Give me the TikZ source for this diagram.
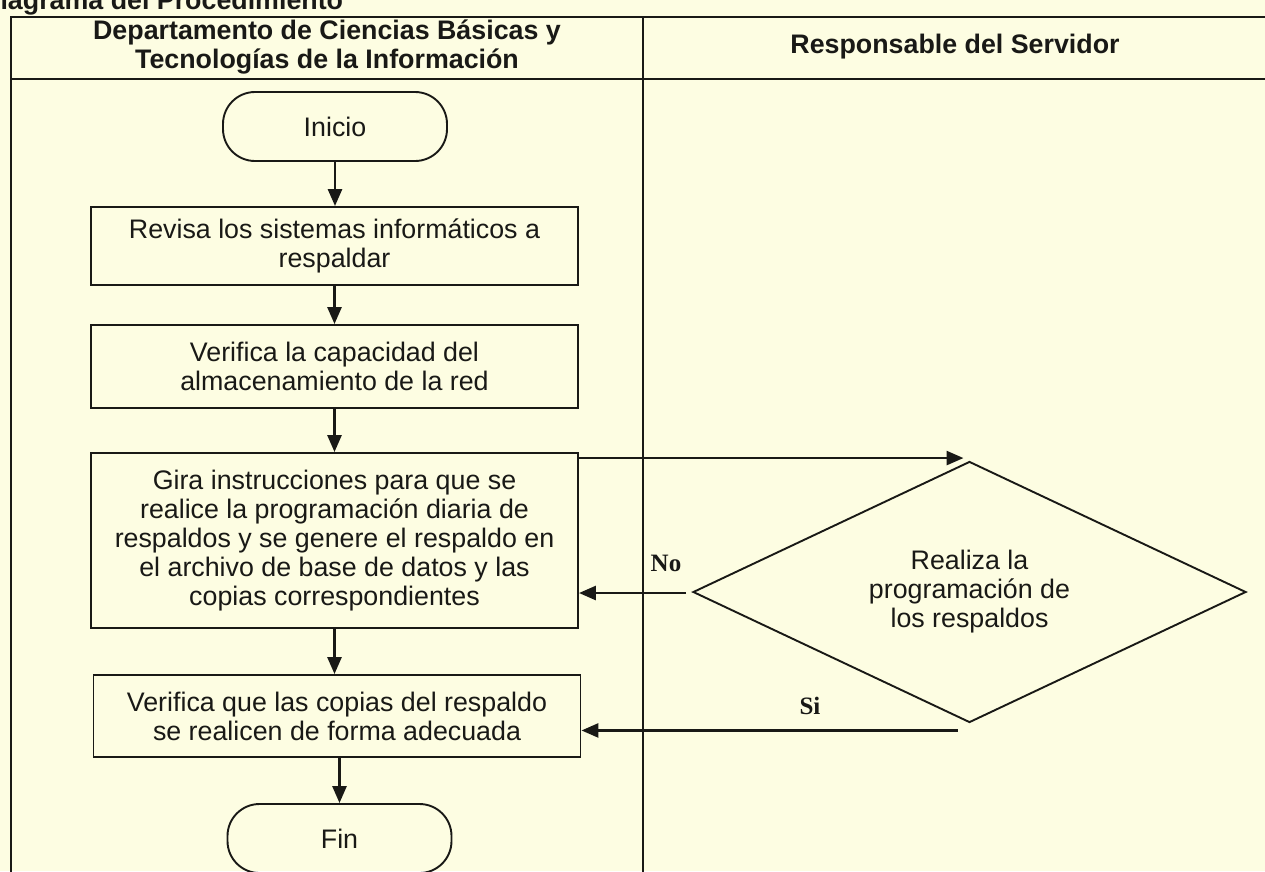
\documentclass[tikz,border=0pt]{standalone}
\usepackage{fontspec}
\setmainfont{Liberation Sans}
\newfontfamily\serifb{Liberation Serif}
\usetikzlibrary{arrows.meta,shapes.geometric,calc}
\definecolor{bg}{RGB}{253,253,226}
\definecolor{ink}{RGB}{25,25,22}
\begin{document}
\begin{tikzpicture}[x=1pt,y=-1pt,
  txt/.style={font=\fontsize{26.8}{29}\selectfont, text=ink, align=center},
  hdr/.style={font=\fontsize{26.8}{29}\selectfont\bfseries, text=ink, align=center},
  procbox/.style={txt, draw=ink, line width=1.9pt, rectangle, minimum width=487pt, inner sep=0pt},
  term/.style={txt, draw=ink, line width=1.9pt, rounded corners=32pt, minimum width=224pt, minimum height=69pt},
  decis/.style={txt, draw=ink, line width=1.9pt, diamond, aspect=2.12, minimum width=553pt, minimum height=261pt, inner sep=0pt},
  flow/.style={draw=ink, line width=2.7pt, -{Triangle[length=17pt,width=14pt]}},
  gridline/.style={draw=ink, line width=1.5pt},
  lbl/.style={font={\serifb\bfseries\fontsize{25}{28}\selectfont}, text=ink}]
\useasboundingbox (0,0) rectangle (1265,871);
\fill[bg] (0,0) rectangle (1265,871);
\clip (0,0) rectangle (1265,871);
% title (cut off at the top)
\node[hdr, anchor=base west, inner sep=0pt] (title) at (-19,9) {Diagrama del Procedimiento};
% table
\draw[gridline] (1280,17) -- (11,17) -- (11,885);
\draw[gridline] (11,79) -- (1280,79);
\draw[gridline] (643,17) -- (643,885);
\node[hdr] (h1) at (327,47) {Departamento de Ciencias Básicas y\\Tecnologías de la Información};
\node[hdr] (h2) at (955,47) {Responsable del Servidor};
% nodes
\node[term] (ini) at (335,126.5) {Inicio};
\node[procbox, minimum height=78pt] (p1) at (334.5,246) {Revisa los sistemas informáticos a\\respaldar};
\node[procbox, minimum height=83pt] (p2) at (334.5,366.5) {Verifica la capacidad del\\almacenamiento de la red};
\node[procbox, minimum height=175pt] (p3) at (334.5,540.5) {Gira instrucciones para que se\\realice la programación diaria de\\respaldos y se genere el respaldo en\\el archivo de base de datos y las\\copias correspondientes};
\node[procbox, minimum height=82pt] (p4) at (337,716) {Verifica que las copias del respaldo\\se realicen de forma adecuada};
\node[term] (fin) at (339.5,838.5) {Fin};
\node[decis] (dec) at (969.5,592) {Realiza la\\programación de\\los respaldos};
% connectors
\draw[flow] (ini.south) -- (ini.south |- p1.north);
\draw[flow] (p1.south) -- (p1.south |- p2.north);
\draw[flow] (p2.south) -- (p2.south |- p3.north);
\draw[flow] (p3.south) -- (p3.south |- p4.north);
\draw[flow] (fin.north |- p4.south) -- (fin.north);
\coordinate (gs) at ($(p3.north east)+(0,6)$);
\coordinate (dt) at ($(dec.north)+(-6,-3)$);
\draw[flow] (gs) -- (gs -| dt);
\coordinate (dl) at ($(dec.west)+(-6,1)$);
\draw[flow] (dl) -- (dl -| p3.east);
\node[lbl] (no) at (666,563) {No};
\coordinate (ds) at ($(dec.south)+(-12,7)$);
\draw[flow] (ds) -- (ds -| p4.east);
\node[lbl] (si) at (810,706) {Si};
\end{tikzpicture}
\end{document}
